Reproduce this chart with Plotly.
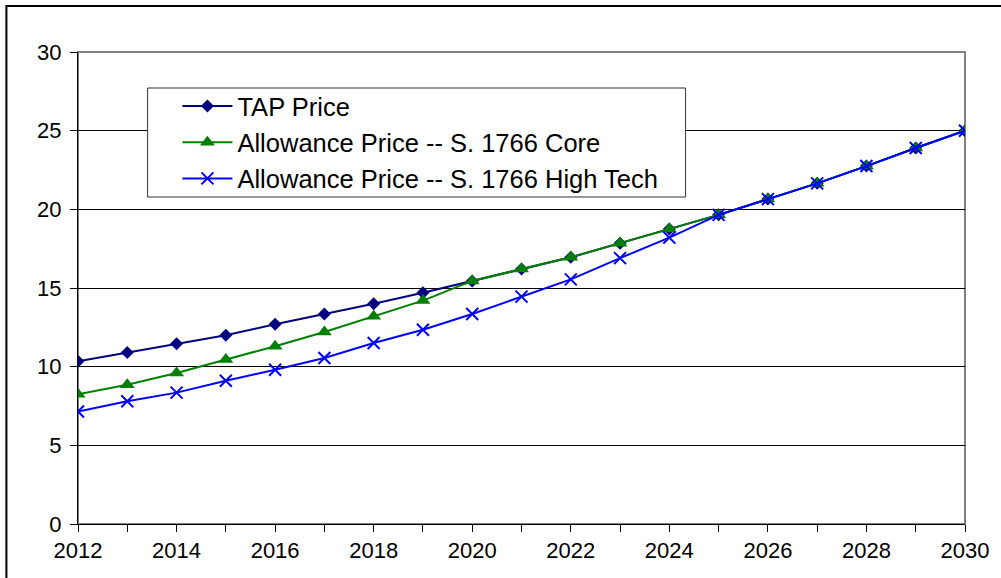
import plotly.graph_objects as go

years = list(range(2012, 2031))
tap_price = [10.35, 10.9, 11.45, 12.0, 12.7, 13.35, 14.0, 14.7, 15.45, 16.2,
             16.95, 17.85, 18.75, 19.65, 20.65, 21.65, 22.75, 23.9, 25.0]
core_price = [8.25, 8.85, 9.6, 10.45, 11.3, 12.2, 13.2, 14.2, 15.45, 16.2,
              16.95, 17.85, 18.75, 19.65, 20.65, 21.65, 22.75, 23.9, 25.0]
hightech_price = [7.15, 7.8, 8.35, 9.1, 9.8, 10.55, 11.5, 12.35, 13.35, 14.45,
                  15.55, 16.9, 18.2, 19.65, 20.65, 21.65, 22.75, 23.9, 25.0]
series_names = ["TAP Price", "Allowance Price -- S. 1766 Core",
                "Allowance Price -- S. 1766 High Tech"]
x_tick_vals = list(range(2012, 2031, 2))
y_tick_vals = [0, 5, 10, 15, 20, 25, 30]

FONT = "Liberation Sans, Arial, sans-serif"
W, H = 1001, 578
L, R, T, B = 78, 31, 52, 54
PW, PH = W - L - R, H - T - B


def px_x(p):
    return (p - L) / PW


def px_y(p):
    return (H - B - p) / PH


fig = go.Figure()
fig.add_trace(go.Scatter(
    x=years, y=tap_price, name=series_names[0], mode="lines+markers",
    line=dict(color="#000080", width=2),
    marker=dict(symbol="diamond", size=10, color="#000080"),
))
fig.add_trace(go.Scatter(
    x=years, y=core_price, name=series_names[1], mode="lines+markers",
    line=dict(color="#008000", width=2),
    marker=dict(symbol="triangle-up", size=13, color="#008000"),
))
fig.add_trace(go.Scatter(
    x=years, y=hightech_price, name=series_names[2], mode="lines+markers",
    line=dict(color="#0000FF", width=2),
    marker=dict(symbol="x-thin", size=12, color="#0000FF",
                line=dict(color="#0000FF", width=2)),
))

# outer frame (partly off-page)
fig.add_shape(type="rect", xref="paper", yref="paper",
              x0=px_x(6), x1=1.2, y0=-0.3, y1=px_y(6),
              line=dict(color="black", width=2), layer="below")
# plot-area border
fig.add_shape(type="rect", xref="paper", yref="paper", x0=0, x1=1, y0=0, y1=1,
              line=dict(color="#808080", width=2), layer="below")
# legend box
fig.add_shape(type="rect", xref="paper", yref="paper",
              x0=px_x(148), x1=px_x(689), y0=px_y(197), y1=px_y(88),
              line=dict(color="#333333", width=1), fillcolor="white", layer="above")

fig.update_layout(
    width=W, height=H,
    margin=dict(l=L, r=R, t=T, b=B),
    paper_bgcolor="white", plot_bgcolor="white",
    font=dict(family=FONT, color="black"),
    showlegend=True,
    legend=dict(
        x=px_x(178), y=px_y(83), xanchor="left", yanchor="top",
        bgcolor="rgba(0,0,0,0)", borderwidth=0,
        font=dict(family=FONT, size=25.5, color="black"),
        itemwidth=50, tracegroupgap=0,
    ),
    xaxis=dict(
        range=[2012, 2030], tickvals=x_tick_vals, ticktext=[str(v) for v in x_tick_vals],
        showgrid=False, zeroline=False,
        showline=True, linecolor="black", linewidth=1,
        ticks="outside", ticklen=7, tickcolor="black",
        minor=dict(dtick=1, ticks="outside", ticklen=7, tickcolor="black", showgrid=False),
        tickfont=dict(family=FONT, size=22, color="black"),
    ),
    yaxis=dict(
        range=[0, 30], tickvals=y_tick_vals,
        showgrid=True, gridcolor="black", gridwidth=1, zeroline=False,
        showline=True, linecolor="black", linewidth=1,
        ticks="outside", ticklen=7, tickcolor="black",
        ticklabelstandoff=4,
        tickfont=dict(family=FONT, size=22, color="black"),
    ),
)

fig.write_html("out.html", config={"displayModeBar": False},
               post_script="document.body.style.margin='0';")
